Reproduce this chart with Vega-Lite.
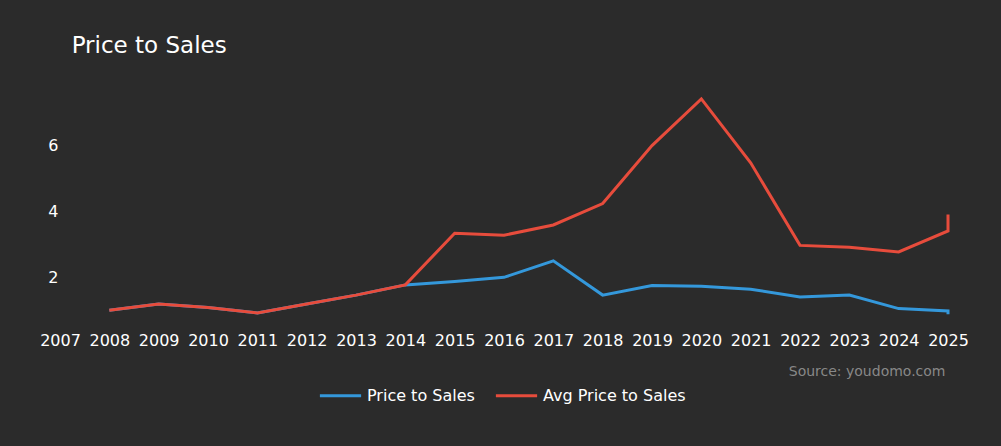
{
  "$schema": "https://vega.github.io/schema/vega-lite/v6.json",
  "autosize": {"type": "none"},
  "padding": {"left": 60, "top": 90, "right": 53, "bottom": 116},
  "width": 888,
  "height": 240,
  "background": "#2b2b2b",
  "config": {
    "font": "DejaVu Sans",
    "view": {"stroke": null},
    "axis": {"grid": false, "domain": false, "ticks": false, "labelColor": "#ffffff", "labelFontSize": 16}
  },
  "title": {
    "text": "Price to Sales",
    "anchor": "start",
    "dx": 32,
    "offset": 32,
    "fontSize": 23,
    "fontWeight": "normal",
    "color": "#ffffff"
  },
  "data": {
    "values": [
      {"year": 2008, "idx": 1, "series": "Price to Sales", "value": 1.0},
      {"year": 2009, "idx": 2, "series": "Price to Sales", "value": 1.19},
      {"year": 2010, "idx": 3, "series": "Price to Sales", "value": 1.08},
      {"year": 2011, "idx": 4, "series": "Price to Sales", "value": 0.92},
      {"year": 2012, "idx": 5, "series": "Price to Sales", "value": 1.19},
      {"year": 2013, "idx": 6, "series": "Price to Sales", "value": 1.46},
      {"year": 2014, "idx": 7, "series": "Price to Sales", "value": 1.77},
      {"year": 2015, "idx": 8, "series": "Price to Sales", "value": 1.87},
      {"year": 2016, "idx": 9, "series": "Price to Sales", "value": 2.0},
      {"year": 2017, "idx": 10, "series": "Price to Sales", "value": 2.5},
      {"year": 2018, "idx": 11, "series": "Price to Sales", "value": 1.46},
      {"year": 2019, "idx": 12, "series": "Price to Sales", "value": 1.75},
      {"year": 2020, "idx": 13, "series": "Price to Sales", "value": 1.73},
      {"year": 2021, "idx": 14, "series": "Price to Sales", "value": 1.64},
      {"year": 2022, "idx": 15, "series": "Price to Sales", "value": 1.4},
      {"year": 2023, "idx": 16, "series": "Price to Sales", "value": 1.46},
      {"year": 2024, "idx": 17, "series": "Price to Sales", "value": 1.05},
      {"year": 2025, "idx": 18, "series": "Price to Sales", "value": 0.98},
      {"year": 2025, "idx": 19, "series": "Price to Sales", "value": 0.88},
      {"year": 2008, "idx": 1, "series": "Avg Price to Sales", "value": 1.0},
      {"year": 2009, "idx": 2, "series": "Avg Price to Sales", "value": 1.19},
      {"year": 2010, "idx": 3, "series": "Avg Price to Sales", "value": 1.08},
      {"year": 2011, "idx": 4, "series": "Avg Price to Sales", "value": 0.92},
      {"year": 2012, "idx": 5, "series": "Avg Price to Sales", "value": 1.19},
      {"year": 2013, "idx": 6, "series": "Avg Price to Sales", "value": 1.46},
      {"year": 2014, "idx": 7, "series": "Avg Price to Sales", "value": 1.77},
      {"year": 2015, "idx": 8, "series": "Avg Price to Sales", "value": 3.34},
      {"year": 2016, "idx": 9, "series": "Avg Price to Sales", "value": 3.28},
      {"year": 2017, "idx": 10, "series": "Avg Price to Sales", "value": 3.59},
      {"year": 2018, "idx": 11, "series": "Avg Price to Sales", "value": 4.24},
      {"year": 2019, "idx": 12, "series": "Avg Price to Sales", "value": 6.0},
      {"year": 2020, "idx": 13, "series": "Avg Price to Sales", "value": 7.42},
      {"year": 2021, "idx": 14, "series": "Avg Price to Sales", "value": 5.48},
      {"year": 2022, "idx": 15, "series": "Avg Price to Sales", "value": 2.97},
      {"year": 2023, "idx": 16, "series": "Avg Price to Sales", "value": 2.91},
      {"year": 2024, "idx": 17, "series": "Avg Price to Sales", "value": 2.77},
      {"year": 2025, "idx": 18, "series": "Avg Price to Sales", "value": 3.41},
      {"year": 2025, "idx": 19, "series": "Avg Price to Sales", "value": 3.91}
    ]
  },
  "mark": {"type": "line", "strokeWidth": 3},
  "encoding": {
    "x": {
      "field": "year",
      "type": "quantitative",
      "scale": {"domain": [2007, 2025], "nice": false, "zero": false},
      "axis": {
        "values": [2007, 2008, 2009, 2010, 2011, 2012, 2013, 2014, 2015, 2016, 2017, 2018, 2019, 2020, 2021, 2022, 2023, 2024, 2025],
        "format": "d",
        "labelPadding": 2,
        "labelFlush": false,
        "labelOverlap": false,
        "title": "Source: youdomo.com",
        "titleAnchor": "end",
        "titleColor": "#888888",
        "titleFontSize": 14,
        "titleFontWeight": "normal",
        "titlePadding": 16,
        "titleX": 885
      }
    },
    "y": {
      "field": "value",
      "type": "quantitative",
      "scale": {"domain": [0.4, 7.69], "nice": false, "zero": false},
      "axis": {"values": [2, 4, 6], "title": null, "labelPadding": 2}
    },
    "color": {
      "field": "series",
      "type": "nominal",
      "scale": {"domain": ["Price to Sales", "Avg Price to Sales"], "range": ["#3498db", "#e74c3c"]},
      "legend": {
        "title": null,
        "orient": "none",
        "legendX": 258,
        "legendY": 283,
        "direction": "horizontal",
        "symbolType": "stroke",
        "symbolSize": 1700,
        "symbolStrokeWidth": 3,
        "labelColor": "#ffffff",
        "labelFontSize": 16,
        "columnPadding": 14
      }
    },
    "order": {"field": "idx", "type": "quantitative"}
  }
}
